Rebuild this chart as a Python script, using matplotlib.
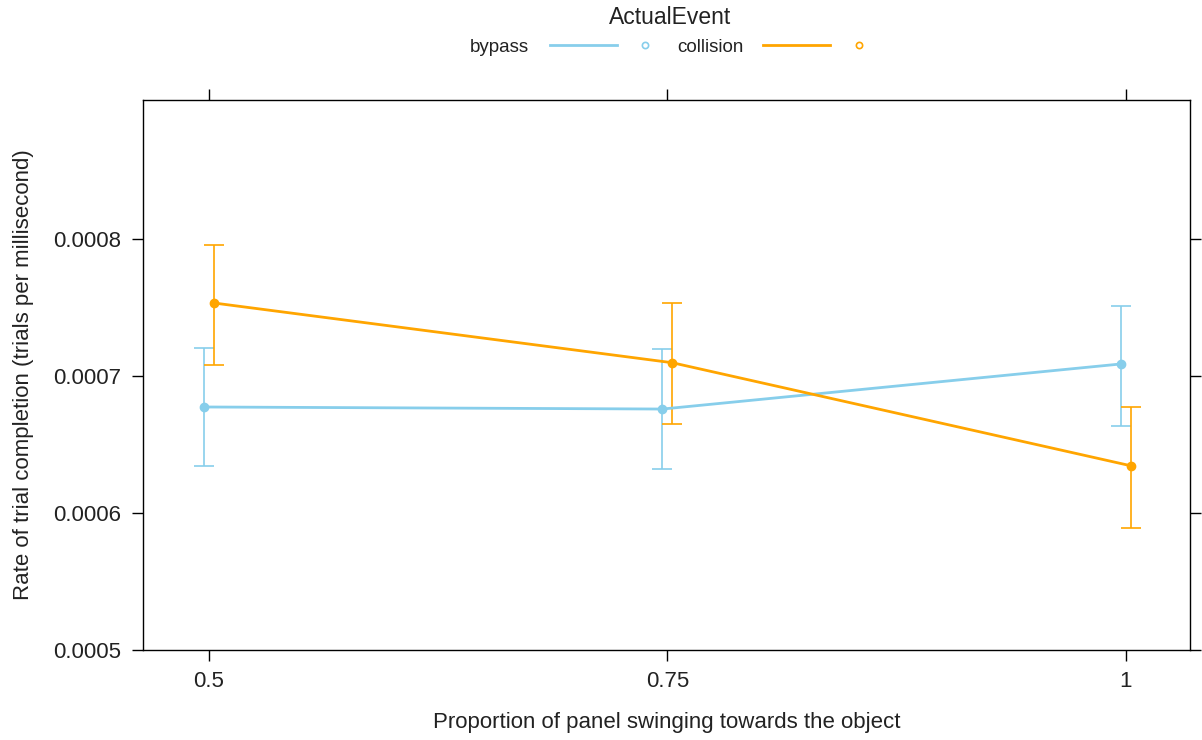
import matplotlib.pyplot as plt
from matplotlib.lines import Line2D
import numpy as np

plt.rcParams['font.family'] = ['Liberation Sans', 'DejaVu Sans']

# proportion of panel swinging, effect estimates with 95% intervals
proportion = [0.5, 0.75, 1.0]

bypass_fit = [0.0006774, 0.0006759, 0.0007088]
bypass_lower = [0.0006343, 0.0006319, 0.0006637]
bypass_upper = [0.0007204, 0.0007195, 0.0007513]

collision_fit = [0.0007533, 0.0007097, 0.0006345]
collision_lower = [0.0007080, 0.0006647, 0.0005893]
collision_upper = [0.0007956, 0.0007535, 0.0006774]

y_ticks = [0.0005, 0.0006, 0.0007, 0.0008]
x_tick_labels = ['0.5', '0.75', '1']

blue = '#87CEEB'
orange = '#FFA500'
dodge = 0.0027
txt = '#222222'

fig = plt.figure(figsize=(12.02, 7.40), dpi=100)
ax = fig.add_axes([0.119, 0.1216, 0.871, 0.7433])

series = [
    (bypass_fit, bypass_lower, bypass_upper, blue, -dodge),
    (collision_fit, collision_lower, collision_upper, orange, dodge),
]
for fit, lo, hi, color, off in series:
    x = np.array(proportion) + off
    fit = np.array(fit)
    ax.plot(x, fit, color=color, lw=2, marker='o', ms=6, zorder=3)
    ax.errorbar(x, fit, yerr=[fit - np.array(lo), np.array(hi) - fit],
                fmt='none', ecolor=color, elinewidth=1.2, capsize=7,
                capthick=1.2, zorder=2)

ax.set_xlim(0.464, 1.035)
ax.set_ylim(0.0005, 0.0009015)
ax.set_xticks(proportion)
ax.set_xticklabels(x_tick_labels)
ax.set_yticks(y_ticks)
ax.set_yticklabels(['%.4f' % v for v in y_ticks])
ax.tick_params(direction='out', length=8, width=1, labelsize=16, labelcolor=txt,
               top=True, right=True, labeltop=False, labelright=False)
ax.tick_params(axis='y', pad=8)
ax.tick_params(axis='x', pad=7)
for s in ax.spines.values():
    s.set_linewidth(1)
ax.set_xlabel('Proportion of panel swinging towards the object', fontsize=16, color=txt)
ax.set_ylabel('Rate of trial completion (trials per millisecond)', fontsize=16, color=txt)
ax.xaxis.set_label_coords(0.5, -0.113)
ax.yaxis.set_label_coords(-0.1045, 0.5)

# lattice style key on top
fig.text(670 / 1202, 1 - 18 / 740, 'ActualEvent', ha='center', va='center', fontsize=16.5, color=txt)
ky = 1 - 47 / 740
keys = [('bypass', blue, 470, 550, 617, 645), ('collision', orange, 677, 763, 830, 859)]
for label, color, tx, l0, l1, px in keys:
    fig.text(tx / 1202, ky, label, ha='left', va='center', fontsize=13.5, color=txt)
    fig.add_artist(Line2D([l0 / 1202, l1 / 1202], [ky + 0.003, ky + 0.003], color=color, lw=2))
    fig.add_artist(Line2D([px / 1202], [ky + 0.003], marker='o', ms=4.5, mfc='none',
                          mec=color, mew=1.2, linestyle='none'))

fig.savefig('out.png', dpi=100)
